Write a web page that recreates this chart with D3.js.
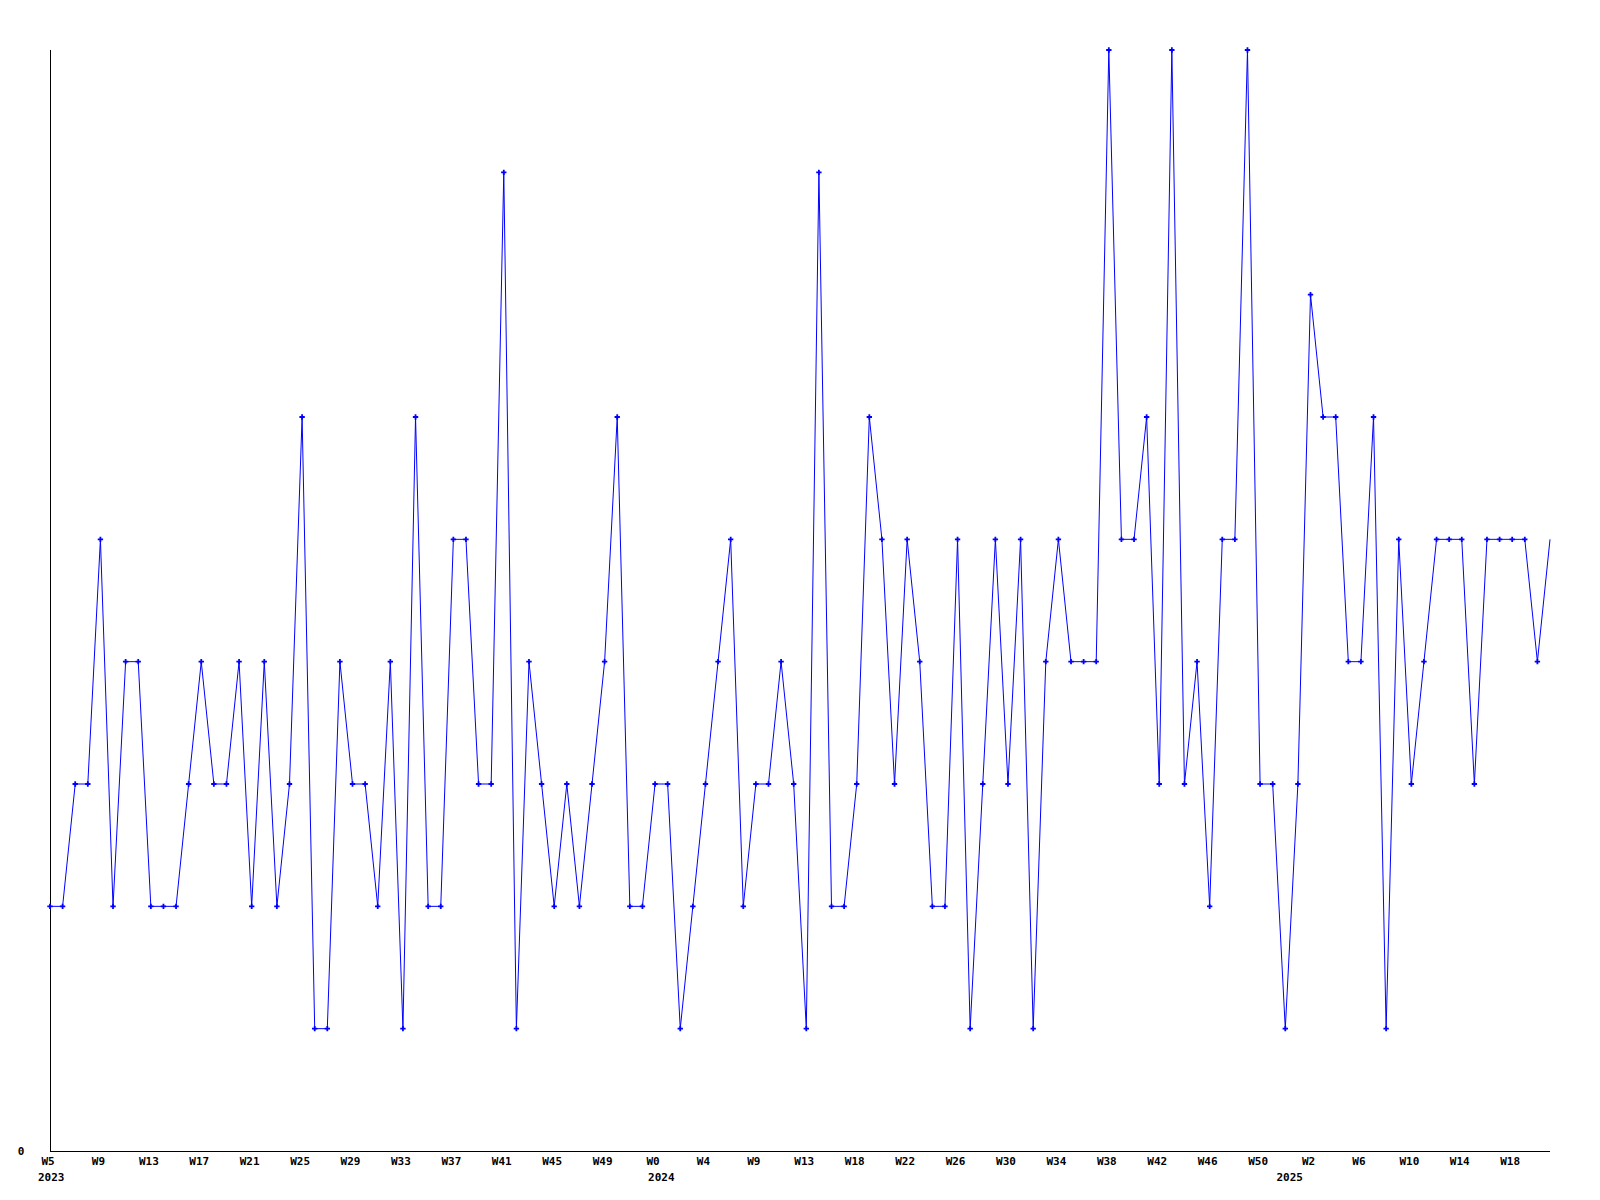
<!DOCTYPE html>
<html>
<head>
<meta charset="utf-8">
<script src="https://cdn.jsdelivr.net/npm/d3@7"></script>
<style>
  html, body { margin: 0; padding: 0; background: #fff; }
  svg text { font-family: "DejaVu Sans Mono", monospace; font-weight: bold; font-size: 11px; fill: #000; }
</style>
</head>
<body>
<svg id="chart" width="1600" height="1200"></svg>
<script>
// Weekly values, one per week (2023 W5 .. 2025 W20)
const values = [
  2,2,3,3,5,2,4,4,2,2,2,3,4,3,3,4,2,4,2,3,
  6,1,1,4,3,3,2,4,1,6,2,2,5,5,3,3,8,1,4,3,
  2,3,2,3,4,6,2,2,3,3,1,2,3,4,5,2,3,3,4,3,
  1,8,2,2,3,6,5,3,5,4,2,2,5,1,3,5,3,5,1,4,
  5,4,4,4,9,5,5,6,3,9,3,4,2,5,5,9,3,3,1,3,
  7,6,6,4,4,6,1,5,3,4,5,5,5,3,5,5,5,5,4,5
];
// Week tick labels, shown at every 4th point
const weekLabels = [
  "W5","W9","W13","W17","W21","W25","W29","W33","W37","W41","W45","W49",
  "W0","W4","W9","W13","W18","W22","W26","W30","W34","W38","W42","W46","W50",
  "W2","W6","W10","W14","W18"
];
const tickEvery = 4;
// Year labels with the (fractional) point index they sit under
const yearLabels = ["2023", "2024", "2025"];
const yearPositions = [0.1, 48.5, 98.35];
const yTickValues = [0];

const svg = d3.select("#chart");
const mLeft = 50, mRight = 1550, mTop = 50, mBottom = 1151;

const x = d3.scaleLinear().domain([0, values.length - 1]).range([mLeft, mRight]);
const y = d3.scaleLinear().domain([0, 9]).range([mBottom, mTop]);

// Axes lines
svg.append("line")
  .attr("x1", mLeft + 0.5).attr("x2", mLeft + 0.5)
  .attr("y1", mTop).attr("y2", mBottom)
  .attr("stroke", "#000").attr("stroke-width", 1).attr("shape-rendering", "crispEdges");
svg.append("line")
  .attr("x1", mLeft).attr("x2", mRight)
  .attr("y1", mBottom + 0.5).attr("y2", mBottom + 0.5)
  .attr("stroke", "#000").attr("stroke-width", 1).attr("shape-rendering", "crispEdges");

// Y tick label
svg.selectAll("text.ytick").data(yTickValues).join("text")
  .attr("class", "ytick")
  .attr("x", 21).attr("y", d => y(d) + 4)
  .attr("text-anchor", "middle")
  .text(d => d3.format("d")(d));

// X tick labels
svg.selectAll("text.xtick").data(weekLabels).join("text")
  .attr("class", "xtick")
  .attr("x", (d, i) => x(i * tickEvery) - 2)
  .attr("y", 1165)
  .attr("text-anchor", "middle")
  .text(d => d);

// Year labels
svg.selectAll("text.year").data(yearLabels).join("text")
  .attr("class", "year")
  .attr("x", (d, i) => x(yearPositions[i]))
  .attr("y", 1181)
  .attr("text-anchor", "middle")
  .text(d => d);

// Line
const line = d3.line().x((d, i) => x(i)).y(d => y(d));
svg.append("path")
  .datum(values)
  .attr("d", line)
  .attr("fill", "none")
  .attr("stroke", "#0000ff")
  .attr("stroke-width", 1);

// Markers (last point sits on the clip edge and shows no marker)
const marker = d3.symbol().type(d3.symbolCross).size(16);
svg.selectAll("path.pt").data(values.slice(0, values.length - 1)).join("path")
  .attr("class", "pt")
  .attr("d", marker)
  .attr("transform", (d, i) => `translate(${x(i)},${y(d)})`)
  .attr("fill", "#0000ff");
</script>
</body>
</html>
